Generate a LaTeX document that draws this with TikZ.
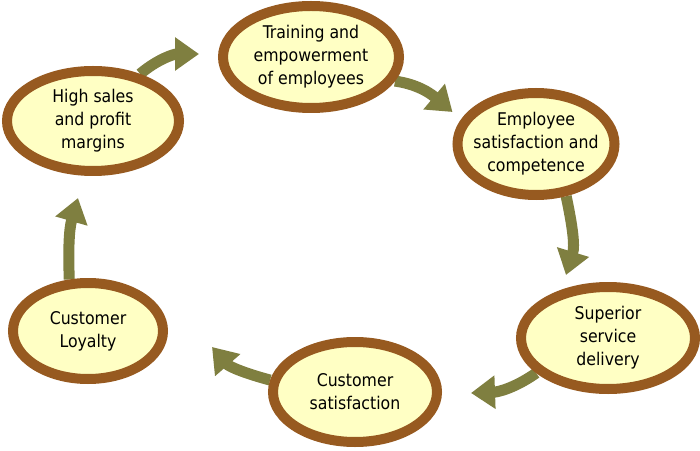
\documentclass[tikz,border=0pt]{standalone}
\usepackage{fontspec}
\setmainfont{DejaVu Sans Condensed}
\usepackage{tikz}
\usetikzlibrary{shapes.geometric, arrows.meta, backgrounds}
\definecolor{ring}{HTML}{975A20}
\definecolor{cream}{HTML}{FFFFC4}
\definecolor{leaf}{HTML}{7F7F40}

\begin{document}
\begin{tikzpicture}[
  x=1pt, y=1pt,
  stage/.style={ellipse, draw=ring, fill=cream, line width=10pt, inner xsep=-15pt, inner ysep=0pt, align=center, font=\fontsize{17.5}{23}\selectfont},
  arr/.style={-{Triangle[length=24pt, width=32pt]}, line width=11pt, draw=leaf},
]
\useasboundingbox (0,0) rectangle (700,450);

\node[stage, minimum width=172pt, minimum height=100pt] (sales) at (93,329) {High sales\\and profit\\margins};
\node[stage, minimum width=176pt, minimum height=102pt] (train) at (311,393) {Training and\\empowerment\\of employees};
\node[stage, minimum width=157pt, minimum height=102pt] (empl) at (536,306) {Employee\\satisfaction and\\competence};
\node[stage, minimum width=174pt, minimum height=102pt] (serv) at (608,112) {Superior\\service\\delivery};
\node[stage, minimum width=164pt, minimum height=100pt] (cust) at (355,58) {Customer\\satisfaction};
\node[stage, minimum width=150pt, minimum height=96pt] (loyal) at (88,119) {Customer\\Loyalty};

\begin{pgfonlayer}{background}
\draw[arr] (sales.45) to[out=40, in=180] ([shift={(-19,3)}]train.west);
\draw[arr] (train.-16) to[out=-8, in=140] ([yshift=32pt]empl.west);
\draw[arr] (empl.-60) to[out=-78, in=73] ([shift={(-42,7)}]serv.north);
\draw[arr] (serv.206) to[out=215, in=2] ([shift={(29,-1)}]cust.east);
\draw[arr] (cust.172) to[out=165, in=-49] ([shift={(44,-16)}]loyal.east);
\draw[arr] (loyal.110) to[out=92, in=254] ([shift={(-15,-22)}]sales.south);
\end{pgfonlayer}

\end{tikzpicture}
\end{document}
